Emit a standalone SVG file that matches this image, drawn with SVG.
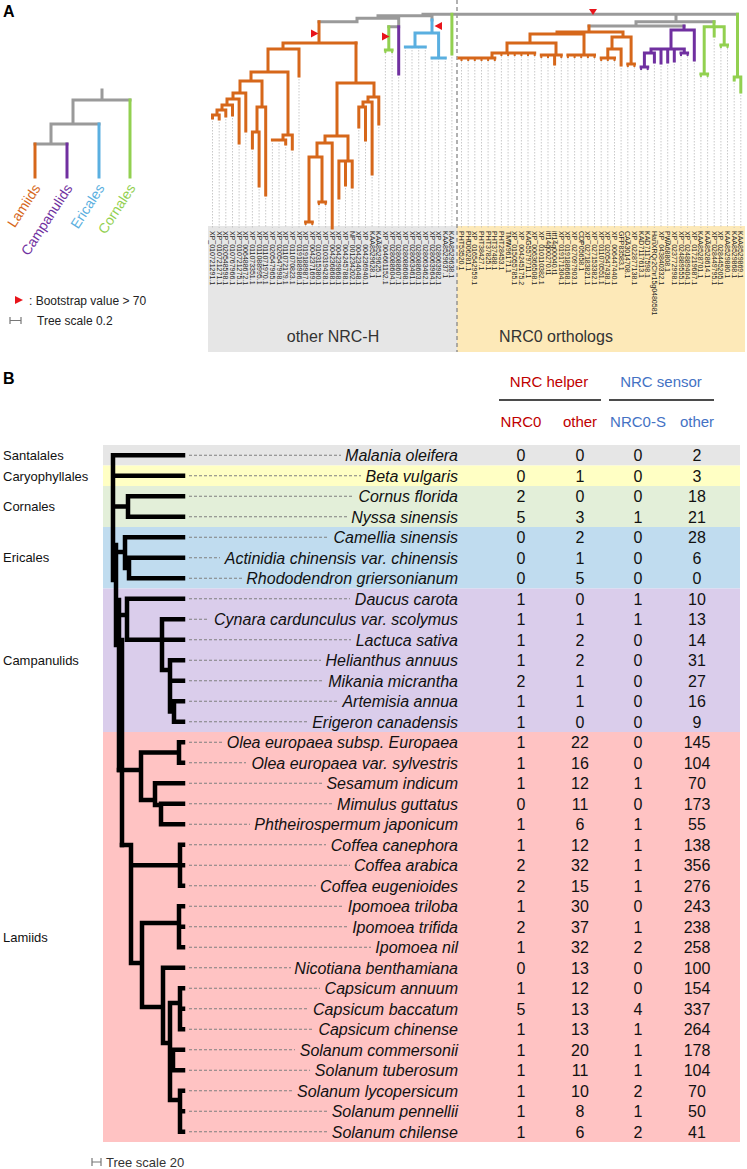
<svg xmlns="http://www.w3.org/2000/svg" width="747" height="1169" viewBox="0 0 747 1169">
<style>
text{font-family:"Liberation Sans",Arial,sans-serif}
.t{fill:none;stroke-width:3;stroke-linecap:square}
.or{stroke:#d6671a}.pu{stroke:#7030a0}.bl{stroke:#5aafe0}.gr{stroke:#92d050}.gy{stroke:#9a9a9a}
.dot{fill:none;stroke:#bbb;stroke-width:0.8;stroke-dasharray:1.5 1.5}
.lab{font-size:7px;fill:#222}
.bt{fill:#e8141b}
.bk{fill:none;stroke:#000;stroke-width:4.5;stroke-linecap:square}
.ds{fill:none;stroke:#808080;stroke-width:1.1;stroke-dasharray:3 2}
.sp{font-size:16px;font-style:italic;text-anchor:end;fill:#111}
.n{font-size:16px;text-anchor:middle;fill:#111}
.grp{font-size:13px;fill:#111}
.hr{fill:#c00000}.hb{fill:#4472c4}
</style>

<!-- Panel A -->
<text x="3" y="17" font-size="16" font-weight="bold">A</text>

<g id="legend-tree">
<path class="t gy" d="M102 90V100M73 100H130M73 100V124M51 124H99M51 124V144M35 144H67"/>
<path class="t or" d="M35 144V177"/>
<path class="t pu" d="M67 144V177"/>
<path class="t bl" d="M99 124V177"/>
<path class="t gr" d="M130 100V177"/>
<text transform="translate(41,188) rotate(-57)" text-anchor="end" font-size="14" fill="#d6671a">Lamiids</text>
<text transform="translate(73,188) rotate(-57)" text-anchor="end" font-size="14" fill="#7030a0">Campanulids</text>
<text transform="translate(105,188) rotate(-57)" text-anchor="end" font-size="14" fill="#5aafe0">Ericales</text>
<text transform="translate(136,188) rotate(-57)" text-anchor="end" font-size="14" fill="#92d050">Cornales</text>
</g>
<g id="legend-keys">
<polygon class="bt" points="15,296 23,300 15,304"/>
<text x="29" y="305" font-size="12" fill="#222">: Bootstrap value &gt; 70</text>
<path d="M10 317V324M10 320.5H21M21 317V324" fill="none" stroke="#777" stroke-width="1.2"/>
<text x="37" y="325" font-size="12" fill="#222">Tree scale 0.2</text>
</g>

<g id="label-boxes">
<rect x="208" y="226" width="249" height="126" fill="#e6e6e6"/>
<rect x="457" y="226" width="288" height="126" fill="#fde9b8"/>
<text x="333" y="342" font-size="16" text-anchor="middle" fill="#333">other NRC-H</text>
<text x="556" y="342" font-size="16" text-anchor="middle" fill="#333">NRC0 orthologs</text>
</g>

<g id="leaf-guides">
<path class="dot" d="M212.5 118V228M219.2 119V228M225.8 116V228M232.5 115V228M239.1 143V228M245.8 131V228M252.4 148V228M259.1 186V228M265.7 195V228M272.4 140V228M279 140V228M285.7 144V228M292.3 149V228M299 76V228M305.6 222V228M312.3 222V228M318.9 202V228M325.6 202V228M338.9 198V228M345.5 185V228M352.2 187V228M358.8 127V228M365.5 140V228M372.1 174V228M378.8 124V228M385.4 50V228M392.1 50V228M398.7 74V228M405.4 47V228M412 47V228M418.7 47V228M425.3 47V228M432 58V228M438.6 58V228M445.3 58V228M451.9 54V228"/>
<path class="dot" d="M461.5 61V228M468.2 61V228M474.8 61V228M481.5 61V228M488.1 61V228M494.8 61V228M501.4 56V228M508.1 56V228M514.7 56V228M521.4 56V228M528 56V228M534.7 56V228M541.3 58V228M548 58V228M554.6 64V228M561.3 58V228M567.9 58V228M574.6 58V228M581.2 58V228M587.9 58V228M594.5 58V228M601.2 61V228M607.8 61V228M614.5 61V228M621.1 65V228M627.8 67V228M634.4 67V228M641.1 70V228M647.7 70V228M654.4 62V228M661 63V228M667.7 62V228M674.3 61V228M681 56V228M687.6 56V228M694.3 60V228M700.9 77V228M707.6 77V228M714.2 36V228M720.9 48V228M727.5 48V228M734.2 80V228M740.8 92V228"/>
</g>

<line id="separator" x1="457" y1="0" x2="457" y2="352" stroke="#888" stroke-width="1.3" stroke-dasharray="4 3"/>

<g id="tree-a">
<path class="t gy" d="M319 21.7H357M357 18.3V21.7M357 18.3H398.7M398.7 18.3V26.7M388.8 26.7H398.7M378 15.7V18.3M378 15.7H432M432 15.7V20M423 14.3V15.7M423 14.3H737.5M676 14.3V21.7M636 21.7H714M636 21.7V26M589 26H684"/>
<path class="t or" d="M319 21.7V43M283 43H356M283 43V49M268 49H299M299 49V76M268 49V72M251 72H288M288 72V135M283 135H292.3M292.3 135V149M283 135V140M272.4 140H285.7M285.7 140V144M251 72V81M240 81H262M262 81V107M257 107H265.7M265.7 107V195M257 107V132M252.4 132H259.1M252.4 132V148M259.1 132V186M240 81V93M233 93H245.8M245.8 93V131M233 93V99M227 99H239.1M239.1 99V143M227 99V105M222 105H232.5M232.5 105V115M222 105V110M217 110H225.8M225.8 110V116M217 110V115M212.5 115H219.2M212.5 115V118M219.2 115V119"/>
<path class="t or" d="M356 43V83M337 83H374M374 83V97M368 97H378.8M378.8 97V124M368 97V102M363 102H372.1M372.1 102V174M363 102V107M358.8 107H365.5M358.8 107V127M365.5 107V140M337 83V136M325 136H348M348 136V161M338.9 161H352.2M338.9 161V198M345.5 161V185M352.2 161V187M325 136V143M317 143H332.2M332.2 143V228M317 143V157M309 157H322M309 157V222M305.6 222H312.3M322 157V202M318.9 202H325.6"/>
<path class="t or" d="M589 26V32M557 32H623M623 32V37M612 37H631.1M631.1 37V64M627.8 64H634.4M612 37V49M607.8 49H621.1M621.1 49V65M607.8 49V58M601.2 58H614.5M557 32V34M530 34H584M584 34V55M567.9 55H594.5M530 34V43M507 43H556M556 43V55M541.3 55H561.3M554.6 55V64M507 43V53M492 53H534.7M492 53V58M459 58H494.8"/>
<path class="or" fill="none" stroke-width="2" d="M461.5 58V61M468.2 58V61M474.8 58V61M481.5 58V61M488.1 58V61M494.8 58V61M501.4 53V56M508.1 53V56M514.7 53V56M521.4 53V56M528 53V56M534.7 53V56M541.3 55V58M548 55V58M561.3 55V58M567.9 55V58M574.6 55V58M581.2 55V58M587.9 55V58M594.5 55V58M601.2 58V61M607.8 58V61M614.5 58V61M627.8 64V67M634.4 64V67M305.6 222V225M312.3 222V225M318.9 202V205M325.6 202V205"/>
<path class="t pu" d="M398.7 26.7V74M684 26V30M671 30H694.3M694.3 30V60M671 30V49M651 49H684.3M684.3 49V53M681 53H687.6M674.3 49V61M667.7 49V62M661 49V63M651 49V53M644.4 53H654.4M654.4 53V62M644.4 53V67M641.1 67H647.7"/>
<path class="pu" fill="none" stroke-width="2" d="M681 53V56M687.6 53V56M641.1 67V70M647.7 67V70"/>
<path class="t bl" d="M432 20V33M415 33H438.6M415 33V47M405.4 47H425.3M438.6 33V58M432 58H445.3"/>
<path class="t gr" d="M388.8 26.7V50M385.4 50H392.1M451.9 14.3V54M714 21.7V26.7M704.2 26.7H724.2M704.2 26.7V74M700.9 74H707.6M714.2 26.7V36M724.2 26.7V45M720.9 45H727.5M737.5 14.3V77M734.2 77H740.8M734.2 77V80M740.8 77V92"/>
<path class="gr" fill="none" stroke-width="2" d="M700.9 74V77M707.6 74V77M720.9 45V48M727.5 45V48M385.4 50V53M392.1 50V53"/>
<polygon class="bt" points="311,29.5 318.5,33.5 311,37.5"/>
<polygon class="bt" points="382,32.5 389.5,36.5 382,40.5"/>
<polygon class="bt" points="442,22 434.5,26 442,30"/>
<polygon class="bt" points="589,9 597,9 593,15"/>
</g>

<g id="leaf-labels" transform="rotate(90)" class="lab">
<text x="231" y="-210">XP_010721291.1</text>
<text x="231" y="-216.7">XP_010721271.1</text>
<text x="231" y="-223.3">XP_020548598.1</text>
<text x="231" y="-230">XP_010767966.1</text>
<text x="231" y="-236.6">XP_010721275.1</text>
<text x="231" y="-243.3">XP_006488672.1</text>
<text x="231" y="-249.9">XP_011073351.1</text>
<text x="231" y="-256.6">XP_011088995.1</text>
<text x="231" y="-263.2">XP_011071970.1</text>
<text x="231" y="-269.9">XP_020547965.1</text>
<text x="231" y="-276.5">XP_020547998.1</text>
<text x="231" y="-283.2">XP_011072179.1</text>
<text x="231" y="-289.8">XP_011070823.1</text>
<text x="231" y="-296.5">XP_019188986.1</text>
<text x="231" y="-303.1">XP_019188987.1</text>
<text x="231" y="-309.8">XP_004237169.1</text>
<text x="231" y="-316.4">XP_010315380.1</text>
<text x="231" y="-323.1">XP_010319428.1</text>
<text x="231" y="-329.7">XP_004236868.1</text>
<text x="231" y="-336.4">XP_004239868.1</text>
<text x="231" y="-343">XP_004245788.1</text>
<text x="231" y="-349.7">NP_001234202.1</text>
<text x="231" y="-356.3">XP_004234048.1</text>
<text x="231" y="-363">XP_004236940.1</text>
<text x="231" y="-369.6">KAA8529628.1</text>
<text x="231" y="-376.3">KAA8529625.1</text>
<text x="231" y="-382.9">XP_004661152.1</text>
<text x="231" y="-389.6">XP_028088604.1</text>
<text x="231" y="-396.2">XP_028088607.1</text>
<text x="231" y="-402.9">XP_028088608.1</text>
<text x="231" y="-409.5">XP_028063461.1</text>
<text x="231" y="-416.2">XP_028088603.1</text>
<text x="231" y="-422.8">XP_028063462.1</text>
<text x="231" y="-429.5">XP_028063964.1</text>
<text x="231" y="-436.1">XP_028063982.1</text>
<text x="231" y="-442.8">KAA8529637.1</text>
<text x="231" y="-449.4">KAA8529638.1</text>
<text x="231" y="-459">PHT53520.1</text>
<text x="231" y="-465.7">PHU06281.1</text>
<text x="231" y="-472.3">XP_016542959.1</text>
<text x="231" y="-479">PHT38427.1</text>
<text x="231" y="-485.6">PHT37825.1</text>
<text x="231" y="-492.3">PHT37488.1</text>
<text x="231" y="-498.9">PHT28453.1</text>
<text x="231" y="-505.6">TMW96171.1</text>
<text x="231" y="-512.2">XP_015055785.1</text>
<text x="231" y="-518.9">XP_004245175.2</text>
<text x="231" y="-525.5">KAG5579711.1</text>
<text x="231" y="-532.2">XP_006366508.1</text>
<text x="231" y="-538.8">XP_010110382.1</text>
<text x="231" y="-545.5">itf14g00270.t1</text>
<text x="231" y="-552.1">itf14g00040.t1</text>
<text x="231" y="-558.8">XP_019171304.1</text>
<text x="231" y="-565.4">XP_019188668.1</text>
<text x="231" y="-572.1">XP_027097903.1</text>
<text x="231" y="-578.7">CDP05658.1</text>
<text x="231" y="-585.4">XP_027183821.1</text>
<text x="231" y="-592">XP_027153382.1</text>
<text x="231" y="-598.7">XP_011070551.1</text>
<text x="231" y="-605.3">XP_020547438.1</text>
<text x="231" y="-612">XP_006447440.1</text>
<text x="231" y="-618.6">GFP83583.1</text>
<text x="231" y="-625.3">CAA3014708.1</text>
<text x="231" y="-631.9">XP_022877138.1</text>
<text x="231" y="-638.6">KAD7117613.1</text>
<text x="231" y="-645.2">KAD7117598.1</text>
<text x="231" y="-651.9">HanXRQr2Chr15g0480581</text>
<text x="231" y="-658.5">XP_043840332.1</text>
<text x="231" y="-665.2">PWA68808.1</text>
<text x="231" y="-671.8">XP_023772998.1</text>
<text x="231" y="-678.5">XP_024889555.1</text>
<text x="231" y="-685.1">XP_024889404.1</text>
<text x="231" y="-691.8">XP_017219687.1</text>
<text x="231" y="-698.4">KAA8528701.1</text>
<text x="231" y="-705.1">KAA8528614.1</text>
<text x="231" y="-711.7">XP_028449795.1</text>
<text x="231" y="-718.4">XP_028445205.1</text>
<text x="231" y="-725">KAA8529880.1</text>
<text x="231" y="-731.7">KAA8529868.1</text>
<text x="231" y="-738.3">KAA8529869.1</text>
</g>

<!-- Panel B -->
<text x="3" y="384" font-size="16" font-weight="bold">B</text>

<g id="header">
<text x="549" y="387" font-size="15" text-anchor="middle" class="hr">NRC helper</text>
<text x="661" y="387" font-size="15" text-anchor="middle" class="hb">NRC sensor</text>
<path d="M499 400H601M609 400H714" stroke="#111" stroke-width="1.5"/>
<text x="521" y="427" font-size="15" text-anchor="middle" class="hr">NRC0</text>
<text x="580" y="427" font-size="15" text-anchor="middle" class="hr">other</text>
<text x="638" y="427" font-size="15" text-anchor="middle" class="hb">NRC0-S</text>
<text x="697" y="427" font-size="15" text-anchor="middle" class="hb">other</text>
</g>

<g id="bands">
<rect x="103" y="445" width="637" height="20.5" fill="#e6e6e6"/>
<rect x="103" y="465.5" width="637" height="20.5" fill="#ffffc4"/>
<rect x="103" y="486" width="637" height="41" fill="#e3efd9"/>
<rect x="103" y="527" width="637" height="61.5" fill="#c0dcef"/>
<rect x="103" y="588.5" width="637" height="143.5" fill="#dacdeb"/>
<rect x="103" y="732" width="637" height="410" fill="#ffc3c3"/>
</g>
<g id="group-labels" class="grp">
<text x="3" y="460">Santalales</text>
<text x="3" y="480.5">Caryophyllales</text>
<text x="3" y="511">Cornales</text>
<text x="3" y="562">Ericales</text>
<text x="3" y="665">Campanulids</text>
<text x="3" y="942">Lamiids</text>
</g>

<g id="tree-b">
<path class="bk" d="M113 455.3V580M116 545V645M119 600V770M122 640V845M113 455.3H183M113 475.8H183M113 506.5H128M128 496.3V516.8M128 496.3H183M128 516.8H183M113 552H125M125 537.3V568M125 537.3H183M125 568H129M129 557.8V578.3M129 557.8H183M129 578.3H183M116 615H127M127 598.8V639.8M127 598.8H183M127 639.8H162M162 619.3V670M162 619.3H183M162 639.8H183M162 670H170M170 660.3V711.5M170 660.3H183M170 680.8H183M170 711.5H174M174 701.3V721.8M174 701.3H183M174 721.8H183"/>
<path class="bk" d="M179 742.3V762.8M141 752.5H179M179 742.3H183M179 762.8H183M141 752.5V800M119 770H141M141 800H155M155 783.3V805M155 783.3H183M155 805H161M161 803.8V824.3M161 803.8H183M161 824.3H183M122 845H131M131 845V963M131 865.3H183M180 844.8V885.8M180 844.8H183M180 885.8H183M131 963H142M142 923V1007M142 923H179M179 906.3V947.3M179 906.3H183M179 926.8H183M179 947.3H183M142 1007H163M163 967.8V1043M163 967.8H183M163 1043H170M170 1003V1100M170 1003H180M180 988.3V1029.3M180 988.3H183M180 1008.8H183M180 1029.3H183M170 1060H173M173 1049.8V1070.3M173 1049.8H183M173 1070.3H183M170 1100H180M180 1090.8V1131.8M180 1090.8H183M180 1111.3H183M180 1131.8H183"/>
</g>

<g id="rows">
<g id="r-malania"><path class="ds" d="M189 455.3H341"/><text class="sp" x="458" y="461">Malania oleifera</text><text class="n" x="521" y="461">0</text><text class="n" x="580" y="461">0</text><text class="n" x="638" y="461">0</text><text class="n" x="697" y="461">2</text></g>
<g id="r-beta"><path class="ds" d="M189 475.8H361"/><text class="sp" x="458" y="481.5">Beta vulgaris</text><text class="n" x="521" y="481.5">0</text><text class="n" x="580" y="481.5">1</text><text class="n" x="638" y="481.5">0</text><text class="n" x="697" y="481.5">3</text></g>
<g id="r-cornus"><path class="ds" d="M189 496.3H354"/><text class="sp" x="458" y="502">Cornus florida</text><text class="n" x="521" y="502">2</text><text class="n" x="580" y="502">0</text><text class="n" x="638" y="502">0</text><text class="n" x="697" y="502">18</text></g>
<g id="r-nyssa"><path class="ds" d="M189 516.8H347"/><text class="sp" x="458" y="522.5">Nyssa sinensis</text><text class="n" x="521" y="522.5">5</text><text class="n" x="580" y="522.5">3</text><text class="n" x="638" y="522.5">1</text><text class="n" x="697" y="522.5">21</text></g>
<g id="r-camellia"><path class="ds" d="M189 537.3H329"/><text class="sp" x="458" y="543">Camellia sinensis</text><text class="n" x="521" y="543">0</text><text class="n" x="580" y="543">2</text><text class="n" x="638" y="543">0</text><text class="n" x="697" y="543">28</text></g>
<g id="r-actinidia"><path class="ds" d="M189 557.8H220"/><text class="sp" x="458" y="563.5">Actinidia chinensis var. chinensis</text><text class="n" x="521" y="563.5">0</text><text class="n" x="580" y="563.5">1</text><text class="n" x="638" y="563.5">0</text><text class="n" x="697" y="563.5">6</text></g>
<g id="r-rhodo"><path class="ds" d="M189 578.3H243"/><text class="sp" x="458" y="584">Rhododendron griersonianum</text><text class="n" x="521" y="584">0</text><text class="n" x="580" y="584">5</text><text class="n" x="638" y="584">0</text><text class="n" x="697" y="584">0</text></g>
<g id="r-daucus"><path class="ds" d="M189 598.8H350"/><text class="sp" x="458" y="604.5">Daucus carota</text><text class="n" x="521" y="604.5">1</text><text class="n" x="580" y="604.5">0</text><text class="n" x="638" y="604.5">1</text><text class="n" x="697" y="604.5">10</text></g>
<g id="r-cynara"><path class="ds" d="M189 619.3H209"/><text class="sp" x="458" y="625">Cynara cardunculus var. scolymus</text><text class="n" x="521" y="625">1</text><text class="n" x="580" y="625">1</text><text class="n" x="638" y="625">1</text><text class="n" x="697" y="625">13</text></g>
<g id="r-lactuca"><path class="ds" d="M189 639.8H351"/><text class="sp" x="458" y="645.5">Lactuca sativa</text><text class="n" x="521" y="645.5">1</text><text class="n" x="580" y="645.5">2</text><text class="n" x="638" y="645.5">0</text><text class="n" x="697" y="645.5">14</text></g>
<g id="r-helianthus"><path class="ds" d="M189 660.3H321"/><text class="sp" x="458" y="666">Helianthus annuus</text><text class="n" x="521" y="666">1</text><text class="n" x="580" y="666">2</text><text class="n" x="638" y="666">0</text><text class="n" x="697" y="666">31</text></g>
<g id="r-mikania"><path class="ds" d="M189 680.8H324"/><text class="sp" x="458" y="686.5">Mikania micrantha</text><text class="n" x="521" y="686.5">2</text><text class="n" x="580" y="686.5">1</text><text class="n" x="638" y="686.5">0</text><text class="n" x="697" y="686.5">27</text></g>
<g id="r-artemisia"><path class="ds" d="M189 701.3H338"/><text class="sp" x="458" y="707">Artemisia annua</text><text class="n" x="521" y="707">1</text><text class="n" x="580" y="707">1</text><text class="n" x="638" y="707">0</text><text class="n" x="697" y="707">16</text></g>
<g id="r-erigeron"><path class="ds" d="M189 721.8H308"/><text class="sp" x="458" y="727.5">Erigeron canadensis</text><text class="n" x="521" y="727.5">1</text><text class="n" x="580" y="727.5">0</text><text class="n" x="638" y="727.5">0</text><text class="n" x="697" y="727.5">9</text></g>
<g id="r-olea1"><path class="ds" d="M189 742.3H222"/><text class="sp" x="458" y="748">Olea europaea subsp. Europaea</text><text class="n" x="521" y="748">1</text><text class="n" x="580" y="748">22</text><text class="n" x="638" y="748">0</text><text class="n" x="697" y="748">145</text></g>
<g id="r-olea2"><path class="ds" d="M189 762.8H246"/><text class="sp" x="458" y="768.5">Olea europaea var. sylvestris</text><text class="n" x="521" y="768.5">1</text><text class="n" x="580" y="768.5">16</text><text class="n" x="638" y="768.5">0</text><text class="n" x="697" y="768.5">104</text></g>
<g id="r-sesamum"><path class="ds" d="M189 783.3H322"/><text class="sp" x="458" y="789">Sesamum indicum</text><text class="n" x="521" y="789">1</text><text class="n" x="580" y="789">12</text><text class="n" x="638" y="789">1</text><text class="n" x="697" y="789">70</text></g>
<g id="r-mimulus"><path class="ds" d="M189 803.8H333"/><text class="sp" x="458" y="809.5">Mimulus guttatus</text><text class="n" x="521" y="809.5">0</text><text class="n" x="580" y="809.5">11</text><text class="n" x="638" y="809.5">0</text><text class="n" x="697" y="809.5">173</text></g>
<g id="r-phtheiro"><path class="ds" d="M189 824.3H250"/><text class="sp" x="458" y="830">Phtheirospermum japonicum</text><text class="n" x="521" y="830">1</text><text class="n" x="580" y="830">6</text><text class="n" x="638" y="830">1</text><text class="n" x="697" y="830">55</text></g>
<g id="r-coffcan"><path class="ds" d="M189 844.8H326"/><text class="sp" x="458" y="850.5">Coffea canephora</text><text class="n" x="521" y="850.5">1</text><text class="n" x="580" y="850.5">12</text><text class="n" x="638" y="850.5">1</text><text class="n" x="697" y="850.5">138</text></g>
<g id="r-coffara"><path class="ds" d="M189 865.3H350"/><text class="sp" x="458" y="871">Coffea arabica</text><text class="n" x="521" y="871">2</text><text class="n" x="580" y="871">32</text><text class="n" x="638" y="871">1</text><text class="n" x="697" y="871">356</text></g>
<g id="r-coffeug"><path class="ds" d="M189 885.8H316"/><text class="sp" x="458" y="891.5">Coffea eugenioides</text><text class="n" x="521" y="891.5">2</text><text class="n" x="580" y="891.5">15</text><text class="n" x="638" y="891.5">1</text><text class="n" x="697" y="891.5">276</text></g>
<g id="r-ipotril"><path class="ds" d="M189 906.3H343"/><text class="sp" x="458" y="912">Ipomoea triloba</text><text class="n" x="521" y="912">1</text><text class="n" x="580" y="912">30</text><text class="n" x="638" y="912">0</text><text class="n" x="697" y="912">243</text></g>
<g id="r-ipotrif"><path class="ds" d="M189 926.8H348"/><text class="sp" x="458" y="932.5">Ipomoea trifida</text><text class="n" x="521" y="932.5">2</text><text class="n" x="580" y="932.5">37</text><text class="n" x="638" y="932.5">1</text><text class="n" x="697" y="932.5">238</text></g>
<g id="r-iponil"><path class="ds" d="M189 947.3H371"/><text class="sp" x="458" y="953">Ipomoea nil</text><text class="n" x="521" y="953">1</text><text class="n" x="580" y="953">32</text><text class="n" x="638" y="953">2</text><text class="n" x="697" y="953">258</text></g>
<g id="r-nicotiana"><path class="ds" d="M189 967.8H291"/><text class="sp" x="458" y="973.5">Nicotiana benthamiana</text><text class="n" x="521" y="973.5">0</text><text class="n" x="580" y="973.5">13</text><text class="n" x="638" y="973.5">0</text><text class="n" x="697" y="973.5">100</text></g>
<g id="r-capann"><path class="ds" d="M189 988.3H320"/><text class="sp" x="458" y="994">Capsicum annuum</text><text class="n" x="521" y="994">1</text><text class="n" x="580" y="994">12</text><text class="n" x="638" y="994">0</text><text class="n" x="697" y="994">154</text></g>
<g id="r-capbac"><path class="ds" d="M189 1008.8H309"/><text class="sp" x="458" y="1014.5">Capsicum baccatum</text><text class="n" x="521" y="1014.5">5</text><text class="n" x="580" y="1014.5">13</text><text class="n" x="638" y="1014.5">4</text><text class="n" x="697" y="1014.5">337</text></g>
<g id="r-capchi"><path class="ds" d="M189 1029.3H314"/><text class="sp" x="458" y="1035">Capsicum chinense</text><text class="n" x="521" y="1035">1</text><text class="n" x="580" y="1035">13</text><text class="n" x="638" y="1035">1</text><text class="n" x="697" y="1035">264</text></g>
<g id="r-solcom"><path class="ds" d="M189 1049.8H295"/><text class="sp" x="458" y="1055.5">Solanum commersonii</text><text class="n" x="521" y="1055.5">1</text><text class="n" x="580" y="1055.5">20</text><text class="n" x="638" y="1055.5">1</text><text class="n" x="697" y="1055.5">178</text></g>
<g id="r-soltub"><path class="ds" d="M189 1070.3H310"/><text class="sp" x="458" y="1076">Solanum tuberosum</text><text class="n" x="521" y="1076">1</text><text class="n" x="580" y="1076">11</text><text class="n" x="638" y="1076">1</text><text class="n" x="697" y="1076">104</text></g>
<g id="r-sollyc"><path class="ds" d="M189 1090.8H293"/><text class="sp" x="458" y="1096.5">Solanum lycopersicum</text><text class="n" x="521" y="1096.5">1</text><text class="n" x="580" y="1096.5">10</text><text class="n" x="638" y="1096.5">2</text><text class="n" x="697" y="1096.5">70</text></g>
<g id="r-solpen"><path class="ds" d="M189 1111.3H327"/><text class="sp" x="458" y="1117">Solanum pennellii</text><text class="n" x="521" y="1117">1</text><text class="n" x="580" y="1117">8</text><text class="n" x="638" y="1117">1</text><text class="n" x="697" y="1117">50</text></g>
<g id="r-solchi"><path class="ds" d="M189 1131.8H327"/><text class="sp" x="458" y="1137.5">Solanum chilense</text><text class="n" x="521" y="1137.5">1</text><text class="n" x="580" y="1137.5">6</text><text class="n" x="638" y="1137.5">2</text><text class="n" x="697" y="1137.5">41</text></g>
</g>

<g id="scale-b">
<path d="M92 1158V1166M92 1162H101M101 1158V1166" fill="none" stroke="#777" stroke-width="1.2"/>
<text x="106" y="1167" font-size="13" fill="#333">Tree scale 20</text>
</g>
</svg>
